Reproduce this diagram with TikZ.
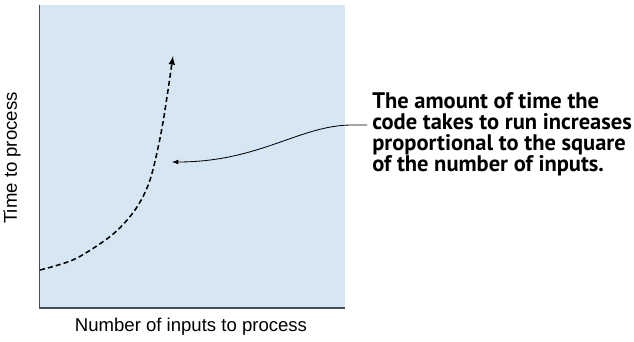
\documentclass[tikz,border=0pt]{standalone}
\usepackage{fontspec}
\setmainfont{Liberation Sans}
\newfontfamily\notefont{PT Sans}
\usetikzlibrary{arrows}
\definecolor{plotblue}{HTML}{D6E7F3}
\definecolor{axisgray}{HTML}{4D4D4D}

\begin{document}
\begin{tikzpicture}[x=0.025cm,y=-0.025cm,
  axislabel/.style={font=\fontsize{13.2}{15}\selectfont,inner sep=0pt},
  note/.style={font=\notefont\bfseries\fontsize{16}{15}\selectfont,align=left,inner sep=0pt},
  growth/.style={line width=1.1pt,dash pattern=on 3.6pt off 2.2pt}]
\useasboundingbox (0,0) rectangle (634,342);
\fill[plotblue] (40,5) rectangle (345,308);
\draw[axisgray,line width=1.1pt] (39.5,5) -- (39.5,308) -- (345,308);
% the growing curve
\draw[growth,-latex] plot[smooth] coordinates {(40,270) (75,259) (112,235) (135,210) (150,180) (162,128) (173,56)};
\node[axislabel,rotate=90] (ylabel) at (12,158) {Time to process};
\node[axislabel] (xlabel) at (191,327) {Number of inputs to process};
\node[note,anchor=north west] (note) at (372,92) {The amount of time the\\code takes to run increases\\proportional to the square\\of the number of inputs.};
\coordinate (start) at (367,125);
\coordinate (tip) at (172,162);
\draw[line width=0.6pt,-latex] (start) -- ++(-15,0) .. controls (300,125) and (260,162) .. (tip);
\end{tikzpicture}
\end{document}
